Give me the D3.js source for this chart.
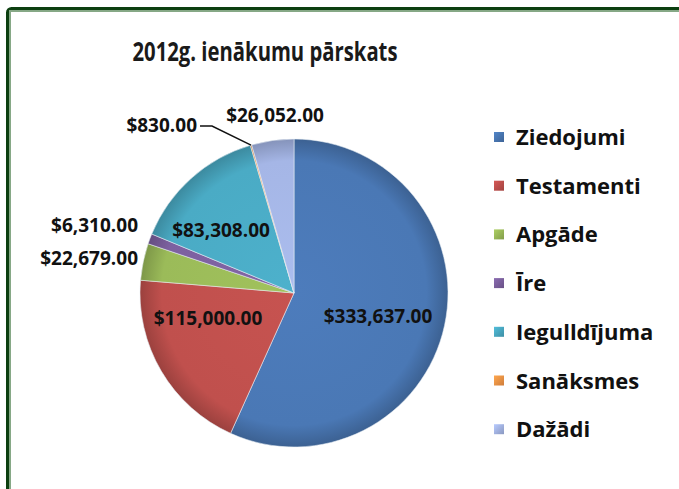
<!DOCTYPE html>
<html><head><meta charset="utf-8">
<script src="https://cdn.jsdelivr.net/npm/d3@7"></script>
<style>body{margin:0;background:#fff}svg{display:block}</style>
</head><body>
<svg id="c" width="679" height="489"></svg>
<script>
const title = "2012g. ienākumu pārskats";
const categories = ["Ziedojumi","Testamenti","Apgāde","Īre","Iegulldījuma","Sanāksmes","Dažādi"];
const values = [333637, 115000, 22679, 6310, 83308, 830, 26052];
const colors = ["#4a78b5","#c0504d","#9bbb59","#7d61a0","#4aabc5","#f79646","#a5b6e6"];

const svg = d3.select("#c");
const W = 679, H = 489;
svg.append("rect").attr("width",W).attr("height",H).attr("fill","#fff");

// frame
svg.append("rect").attr("x",7.5).attr("y",8.5).attr("width",W+20).attr("height",H+20)
  .attr("rx",4).attr("fill","none").attr("stroke","#0c3f10").attr("stroke-width",3);
svg.append("rect").attr("x",10).attr("y",11).attr("width",W+20).attr("height",H+20)
  .attr("fill","none").attr("stroke","#86a886").attr("stroke-width",2);

const lf = "Open Sans, Noto Sans, sans-serif";
// title
svg.append("text").attr("x",265).attr("y",61).attr("text-anchor","middle")
  .attr("font-family",lf).attr("font-weight","bold")
  .attr("font-size",27).attr("fill","#1a1a1a")
  .attr("textLength",265).attr("lengthAdjust","spacingAndGlyphs").text(title);

const cx = 294, cy = 293, R = 154;
const defs = svg.append("defs");
colors.forEach((c,i)=>{
  const g = defs.append("radialGradient").attr("id","g"+i)
    .attr("gradientUnits","userSpaceOnUse").attr("cx",0).attr("cy",0).attr("r",R);
  g.append("stop").attr("offset","0%").attr("stop-color",d3.color(c).brighter(0.1));
  g.append("stop").attr("offset","86%").attr("stop-color",c);
  g.append("stop").attr("offset","100%").attr("stop-color",d3.color(c).darker(0.6));
  const l = defs.append("linearGradient").attr("id","l"+i).attr("x1",0).attr("y1",0).attr("x2",1).attr("y2",1);
  l.append("stop").attr("offset","0%").attr("stop-color",d3.color(c).brighter(0.3));
  l.append("stop").attr("offset","100%").attr("stop-color",d3.color(c).darker(0.5));
});

const pie = d3.pie().sort(null).value(d=>d)(values);
const arc = d3.arc().innerRadius(0).outerRadius(R);
const g = svg.append("g").attr("transform",`translate(${cx},${cy})`);
g.selectAll("path").data(pie).join("path")
  .attr("d",arc).attr("fill",(d,i)=>`url(#g${i})`)
  .attr("stroke","#e8eef5").attr("stroke-width",0.8).attr("stroke-opacity",0.7);

// labels
const fmt = d3.format("$,.2f");
const labelLayout = [
  {x:378,y:323,anchor:"middle"},
  {x:208,y:325,anchor:"middle"},
  {x:138,y:265,anchor:"end"},
  {x:138,y:232,anchor:"end"},
  {x:221,y:237,anchor:"middle"},
  {x:197,y:132,anchor:"end"},
  {x:275,y:122,anchor:"middle"}
];
values.forEach((v,i)=>{
  svg.append("text").attr("x",labelLayout[i].x).attr("y",labelLayout[i].y)
    .attr("text-anchor",labelLayout[i].anchor).attr("font-family",lf).attr("font-weight","bold")
    .attr("font-size",19).attr("fill","#111").text(fmt(v));
});
// leader line for Sanāksmes
const outer = d3.arc().innerRadius(R).outerRadius(R).centroid(pie[5]);
const p = [cx+outer[0], cy+outer[1]];
svg.append("path").attr("fill","none").attr("stroke","#111").attr("stroke-width",1.5)
  .attr("d", d3.line()([[p[0],p[1]],[p[0]-39,p[1]-19],[p[0]-51,p[1]-19]]));

// legend
const lg = svg.append("g");
categories.forEach((c,i)=>{
  const y = 137 + i*48.7;
  lg.append("rect").attr("x",494).attr("y",y-5).attr("width",10).attr("height",10)
    .attr("fill",`url(#l${i})`);
  lg.append("text").attr("x",516).attr("y",y+8).attr("font-family",lf).attr("font-weight","bold")
    .attr("font-size",22).attr("fill","#111").text(c);
});
</script>
</body></html>
